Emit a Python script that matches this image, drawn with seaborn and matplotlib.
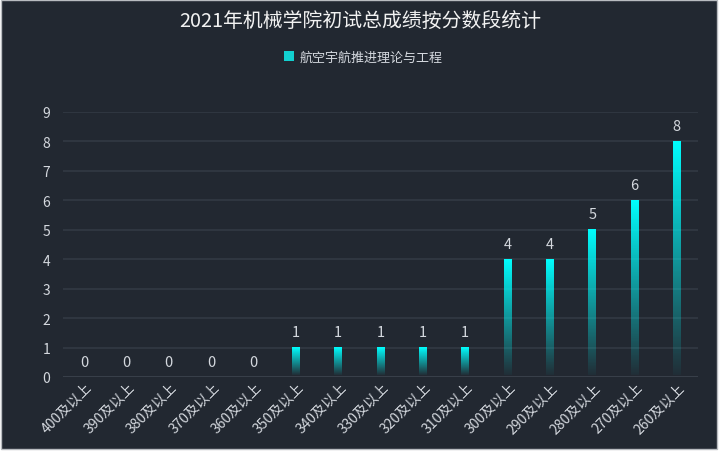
import numpy as np
import pandas as pd
import matplotlib
matplotlib.use("Agg")
import matplotlib.pyplot as plt
import matplotlib.transforms as mtransforms
from matplotlib.patches import Rectangle, Patch
import seaborn as sns

categories = ["400及以上", "390及以上", "380及以上", "370及以上", "360及以上",
              "350及以上", "340及以上", "330及以上", "320及以上", "310及以上",
              "300及以上", "290及以上", "280及以上", "270及以上", "260及以上"]
counts = [0, 0, 0, 0, 0, 1, 1, 1, 1, 1, 4, 4, 5, 6, 8]
series_name = "航空宇航推进理论与工程"
title = "2021年机械学院初试总成绩按分数段统计"
yticks = list(range(0, 10))

BG = "#222831"
GRID = "#323944"
TXT = "#d4d8de"

sns.set_theme(style="dark")
plt.rcParams["font.family"] = ["Noto Sans CJK SC", "DejaVu Sans"]
plt.rcParams["axes.unicode_minus"] = False

fig = plt.figure(figsize=(7.2, 4.6), dpi=100)
fig.patch.set_facecolor("white")
panel = Rectangle((1 / 720, 10 / 460), 716 / 720, 449 / 460, transform=fig.transFigure,
                  facecolor=BG, edgecolor="#b9bcc0", linewidth=1, zorder=-10)
fig.patches.append(panel)

ax = fig.add_axes([63 / 720, (460 - 378) / 460, (698 - 63) / 720, (378 - 113) / 460])
ax.set_facecolor(BG)

df = pd.DataFrame({"range": categories, "count": counts, "series": series_name})
sns.barplot(data=df, x="range", y="count", color="#00ffff", width=0.18,
            ax=ax, zorder=3, legend=False)

# gradient fill for each bar
grad = np.zeros((256, 1, 4))
grad[:, 0, 0] = 0.0
grad[:, 0, 1] = 1.0
grad[:, 0, 2] = 1.0
grad[:, 0, 3] = np.linspace(0.03, 1.0, 256)
for p in ax.patches:
    h = p.get_height()
    if h > 0:
        x0 = p.get_x()
        w = p.get_width()
        ax.imshow(grad, extent=[x0, x0 + w, 0.07, h], aspect="auto",
                  origin="lower", zorder=3, interpolation="bilinear")
    p.set_facecolor("none")
    p.set_edgecolor("none")

ax.bar_label(ax.containers[0], labels=[str(v) for v in counts], padding=6,
             color=TXT, fontsize=10.5)

ax.set_xlim(-0.5, len(categories) - 0.5)
ax.set_ylim(0, 9)
ax.set_yticks(yticks)
ax.set_yticklabels([str(t) for t in yticks])
ax.yaxis.grid(True, color=GRID, linewidth=1.2)
ax.xaxis.grid(False)
for s in ax.spines.values():
    s.set_visible(False)
ax.axhline(0, color="#3a414c", linewidth=1.2, zorder=2)
ax.tick_params(axis="y", colors=TXT, labelsize=10, length=0, pad=9)
ax.tick_params(axis="x", colors=TXT, labelsize=10, length=0, pad=5)
offset = mtransforms.ScaledTranslation(6 / 100, -1 / 100, fig.dpi_scale_trans)
for lbl in ax.get_xticklabels():
    lbl.set_rotation(45)
    lbl.set_ha("right")
    lbl.set_va("center")
    lbl.set_rotation_mode("anchor")
    lbl.set_transform(lbl.get_transform() + offset)
ax.set_xlabel("")
ax.set_ylabel("")

fig.text(0.5, 1 - 22 / 460, title, ha="center", va="center", color="#f2f2f2",
         fontsize=14.3)

handle = Patch(facecolor="#12d0d0", edgecolor="none")
fig.legend(handles=[handle], labels=[series_name], loc="center",
           bbox_to_anchor=(0.505, 1 - 58 / 460), frameon=False, fontsize=9.4,
           labelcolor=TXT, handlelength=0.75, handleheight=0.75, handletextpad=0.45)

fig.savefig("out.png", dpi=100, facecolor=fig.get_facecolor())
